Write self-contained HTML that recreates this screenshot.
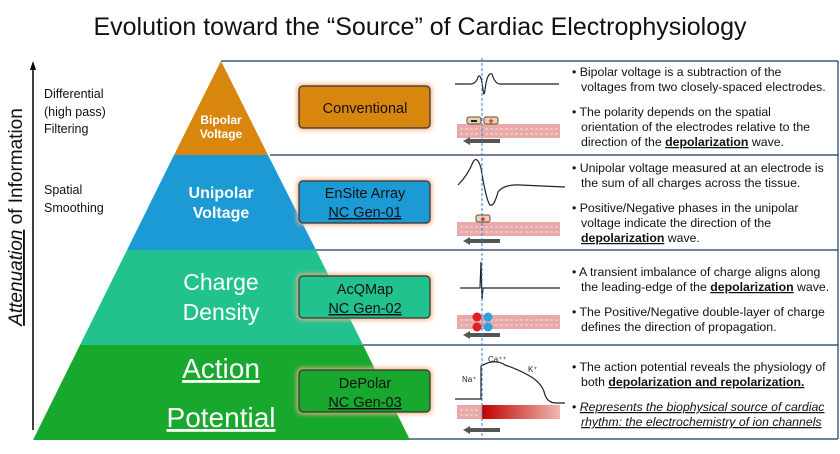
<!DOCTYPE html>
<html><head><meta charset="utf-8"><style>
html,body{margin:0;padding:0;background:#fff}
svg{display:block}
text{font-family:"Liberation Sans",sans-serif}
</style></head><body>
<svg width="840" height="454" viewBox="0 0 840 454" xmlns="http://www.w3.org/2000/svg">
<defs>
<linearGradient id="ap" x1="0" x2="1"><stop offset="0" stop-color="#c00000"/><stop offset="1" stop-color="#f0b8b0"/></linearGradient>
<filter id="gl" x="-20%" y="-30%" width="140%" height="160%"><feGaussianBlur stdDeviation="2.5"/></filter>
</defs>
<text x="420" y="35" font-size="25" text-anchor="middle" fill="#111">Evolution toward the “Source” of Cardiac Electrophysiology</text>

<line x1="33" y1="430" x2="33" y2="68" stroke="#000" stroke-width="1.5"/>
<polygon points="33,61 30,70 36,70" fill="#000"/>
<text transform="translate(22,217) rotate(-90)" font-size="19" text-anchor="middle" fill="#111"><tspan font-style="italic" text-decoration="underline">Attenuation</tspan> of  Information</text>
<text x="44" y="98" font-size="12.5" fill="#111">Differential</text>
<text x="44" y="116" font-size="12.5" fill="#111">(high pass)</text>
<text x="44" y="133" font-size="12.5" fill="#111">Filtering</text>
<text x="44" y="194" font-size="12.5" fill="#111">Spatial</text>
<text x="44" y="212" font-size="12.5" fill="#111">Smoothing</text>

<g stroke="#1f3864" stroke-width="1.2" fill="none">
<line x1="221" y1="61" x2="838" y2="61"/>
<line x1="270" y1="155" x2="838" y2="155"/>
<line x1="316" y1="250" x2="838" y2="250"/>
<line x1="363" y1="345" x2="838" y2="345"/>
<line x1="409" y1="439" x2="838" y2="439"/>
<line x1="838" y1="61" x2="838" y2="439"/>
</g>

<polygon points="221,61 268,155 174,155" fill="#d9860e"/>
<polygon points="174,155 268,155 316,250 127,250" fill="#1b9ad6"/>
<polygon points="127,250 316,250 363,345 80,345" fill="#22c28f"/>
<polygon points="80,345 363,345 410,440 33,440" fill="#18a82e"/>
<text x="221" y="124" font-size="12" font-weight="bold" fill="#fff" text-anchor="middle">Bipolar</text>
<text x="221" y="138" font-size="12" font-weight="bold" fill="#fff" text-anchor="middle">Voltage</text>
<text x="221" y="198" font-size="16" font-weight="bold" fill="#fff" text-anchor="middle">Unipolar</text>
<text x="221" y="218" font-size="16" font-weight="bold" fill="#fff" text-anchor="middle">Voltage</text>
<text x="221" y="290" font-size="23" fill="#fff" text-anchor="middle">Charge</text>
<text x="221" y="320" font-size="23" fill="#fff" text-anchor="middle">Density</text>
<text x="221" y="378" font-size="28" fill="#fff" text-anchor="middle" text-decoration="underline">Action</text>
<text x="221" y="427" font-size="28" fill="#fff" text-anchor="middle" text-decoration="underline">Potential</text>

<g>
<rect x="297" y="84" width="135" height="46" rx="5" fill="#f4b183" filter="url(#gl)"/>
<rect x="299" y="86" width="131" height="42" rx="4" fill="#d9860e" stroke="#333" stroke-width="1.2"/>
<text x="365" y="113" font-size="14.5" text-anchor="middle" fill="#111">Conventional</text>
<rect x="297" y="179" width="135" height="46" rx="5" fill="#f4b183" filter="url(#gl)"/>
<rect x="299" y="181" width="131" height="42" rx="4" fill="#1b9ad6" stroke="#333" stroke-width="1.2"/>
<text x="365" y="198" font-size="14.5" text-anchor="middle" fill="#111">EnSite Array</text>
<text x="365" y="217" font-size="14.5" text-anchor="middle" fill="#111" text-decoration="underline">NC Gen-01</text>
<rect x="297" y="274" width="135" height="46" rx="5" fill="#f4b183" filter="url(#gl)"/>
<rect x="299" y="276" width="131" height="42" rx="4" fill="#22c28f" stroke="#333" stroke-width="1.2"/>
<text x="365" y="294" font-size="14.5" text-anchor="middle" fill="#111">AcQMap</text>
<text x="365" y="313" font-size="14.5" text-anchor="middle" fill="#111" text-decoration="underline">NC Gen-02</text>
<rect x="297" y="368" width="135" height="46" rx="5" fill="#f4b183" filter="url(#gl)"/>
<rect x="299" y="370" width="131" height="42" rx="4" fill="#18a82e" stroke="#333" stroke-width="1.2"/>
<text x="365" y="388" font-size="14.5" text-anchor="middle" fill="#111">DePolar</text>
<text x="365" y="407" font-size="14.5" text-anchor="middle" fill="#111" text-decoration="underline">NC Gen-03</text>
</g>

<g fill="#e8aaa8">
<rect x="457" y="124" width="103" height="14"/>
<rect x="457" y="222" width="103" height="14"/>
<rect x="457" y="315" width="103" height="14"/>
<rect x="457" y="405" width="103" height="14"/>
</g>
<rect x="482" y="405" width="78" height="14" fill="url(#ap)"/>
<g stroke="#fff" stroke-width="0.7" stroke-dasharray="3,2" opacity="0.8">
<line x1="460" y1="129" x2="558" y2="129"/><line x1="460" y1="134" x2="558" y2="134"/>
<line x1="460" y1="227" x2="558" y2="227"/><line x1="460" y1="232" x2="558" y2="232"/>
<line x1="460" y1="320" x2="558" y2="320"/><line x1="460" y1="325" x2="558" y2="325"/>
<line x1="460" y1="410" x2="480" y2="410"/><line x1="460" y1="415" x2="480" y2="415"/>
</g>
<g fill="#555">
<rect x="468" y="139" width="32" height="4"/><polygon points="463,141 470,137 470,145"/>
<rect x="468" y="239" width="32" height="4"/><polygon points="463,241 470,237 470,245"/>
<rect x="468" y="333" width="32" height="4"/><polygon points="463,335 470,331 470,339"/>
<rect x="468" y="428" width="32" height="4"/><polygon points="463,430 470,426 470,434"/>
</g>

<g fill="none" stroke="#222" stroke-width="1.2">
<path d="M455,84 L470,84 Q476,84 478,77 Q481,72 483,90 Q484,98 485,90 Q487,72 492,74 Q495,84 500,84 L559,84"/>
<path d="M458,185 Q468,175 473,162 Q477,155 481,168 Q486,200 490,205 Q494,207 498,192 Q504,184 520,185 L565,187"/>
<path d="M460,288 L480,288 L481,262 L482,300 L483,288 L560,288"/>
<path d="M455,399 L481,399 L481,366 Q495,358 505,365 Q520,370 533,378 Q543,385 545,395 Q548,403 556,403 L565,403"/>
</g>
<text x="488" y="362" font-size="8" fill="#222">Ca⁺⁺</text>
<text x="528" y="372" font-size="8" fill="#222">K⁺</text>
<text x="462" y="382" font-size="8" fill="#222">Na⁺</text>

<g stroke="#6b4a2e" stroke-width="1" fill="#e7d3bc">
<rect x="467" y="117" width="14" height="7" rx="2"/>
<rect x="484" y="117" width="14" height="7" rx="2"/>
<rect x="476" y="215" width="14" height="7" rx="2"/>
</g>
<rect x="471" y="120" width="6" height="2" fill="#222"/>
<text x="491" y="124" font-size="9" fill="#e00" text-anchor="middle" font-weight="bold">+</text>
<text x="483" y="222" font-size="9" fill="#e00" text-anchor="middle" font-weight="bold">+</text>
<circle cx="477" cy="317" r="4.5" fill="#e02020"/><circle cx="477" cy="327" r="4.5" fill="#e02020"/>
<circle cx="488" cy="317" r="4.5" fill="#2ea0e0"/><circle cx="488" cy="327" r="4.5" fill="#2ea0e0"/>

<line x1="482" y1="58" x2="482" y2="440" stroke="#3a7dc0" stroke-width="1" stroke-dasharray="3,2"/>

<g font-size="12.3" fill="#111">
<text x="572" y="76">• Bipolar voltage is a subtraction of the</text>
<text x="581" y="91">voltages from two closely-spaced electrodes.</text>
<text x="572" y="116">• The polarity depends on the spatial</text>
<text x="581" y="131">orientation of the electrodes relative to the</text>
<text x="581" y="146">direction of the <tspan font-weight="bold" text-decoration="underline">depolarization</tspan> wave.</text>
<text x="572" y="172">• Unipolar voltage measured at an electrode is</text>
<text x="581" y="187">the sum of all charges across the tissue.</text>
<text x="572" y="212">• Positive/Negative phases in the unipolar</text>
<text x="581" y="227">voltage indicate the direction of the</text>
<text x="581" y="242"><tspan font-weight="bold" text-decoration="underline">depolarization</tspan> wave.</text>
<text x="572" y="276">• A transient imbalance of charge aligns along</text>
<text x="581" y="291">the leading-edge of the <tspan font-weight="bold" text-decoration="underline">depolarization</tspan> wave.</text>
<text x="572" y="316">• The Positive/Negative double-layer of charge</text>
<text x="581" y="331">defines the direction of propagation.</text>
<text x="572" y="371">• The action potential reveals the physiology of</text>
<text x="581" y="386">both <tspan font-weight="bold" text-decoration="underline">depolarization and repolarization.</tspan></text>
<text x="572" y="411">• <tspan font-style="italic" text-decoration="underline">Represents the biophysical source of cardiac</tspan></text>
<text x="581" y="426" font-style="italic" text-decoration="underline">rhythm:  the electrochemistry of ion channels</text>
</g>
</svg>
</body></html>
